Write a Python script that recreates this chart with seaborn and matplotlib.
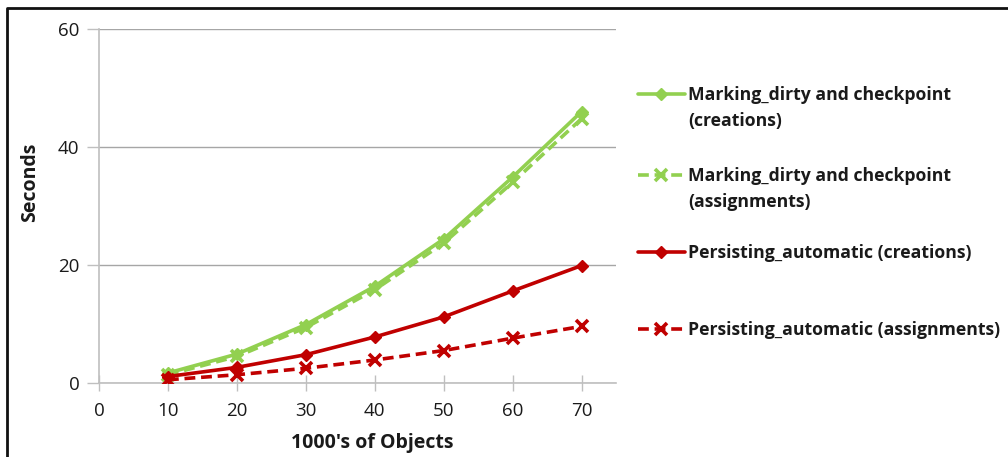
import matplotlib
matplotlib.use("Agg")
import matplotlib.pyplot as plt
from matplotlib.lines import Line2D
import seaborn as sns
import pandas as pd

# Thousands of objects processed
objects_k = [10, 20, 30, 40, 50, 60, 70]

# Elapsed time in seconds for each strategy
marking_creations = [1.7, 4.9, 9.9, 16.4, 24.4, 34.9, 46.0]
marking_assignments = [1.4, 4.5, 9.4, 15.8, 23.7, 34.0, 44.8]
persisting_creations = [1.1, 2.65, 4.8, 7.8, 11.2, 15.6, 19.9]
persisting_assignments = [0.55, 1.4, 2.5, 3.9, 5.5, 7.6, 9.6]

series_names = [
    "Marking_dirty and checkpoint\n(creations)",
    "Marking_dirty and checkpoint\n(assignments)",
    "Persisting_automatic (creations)",
    "Persisting_automatic (assignments)",
]
series_values = [marking_creations, marking_assignments,
                 persisting_creations, persisting_assignments]

GREEN = "#92D050"
RED = "#C00000"
styles = [
    dict(color=GREEN, ls="-", marker="D", ms=6.5, mew=1.0),
    dict(color=GREEN, ls=(0, (3, 1.6)), marker="x", ms=9, mew=2.6),
    dict(color=RED, ls="-", marker="D", ms=6.5, mew=1.0),
    dict(color=RED, ls=(0, (3, 1.6)), marker="x", ms=9, mew=2.6),
]

sns.set_theme(style="white")
plt.rcParams["font.family"] = ["Open Sans", "DejaVu Sans"]

fig = plt.figure(figsize=(10.08, 4.57), dpi=100)
W, H = 1008, 457
ax = fig.add_axes([99 / W, 1 - 383 / H, (616 - 99) / W, (383 - 29) / H])

rows = []
for name, vals in zip(series_names, series_values):
    for x, y in zip(objects_k, vals):
        rows.append({"objects": x, "seconds": y, "series": name})
df = pd.DataFrame(rows)

for name, st in zip(series_names, styles):
    sub = df[df["series"] == name]
    sns.lineplot(data=sub, x="objects", y="seconds", ax=ax,
                 color=st["color"], linestyle=st["ls"], linewidth=2.6,
                 marker=st["marker"], markersize=st["ms"],
                 markeredgewidth=st["mew"], markeredgecolor=st["color"],
                 markerfacecolor=st["color"], legend=False, zorder=3)

ax.set_xlim(0, 75)
ax.set_ylim(0, 60)
ax.set_xticks(range(0, 71, 10))
ax.set_yticks([0, 20, 40, 60])
ax.yaxis.grid(True, color="#A6A6A6", linewidth=1.0)
ax.set_axisbelow(True)
for side in ("top", "right"):
    ax.spines[side].set_visible(False)
for side in ("left", "bottom"):
    ax.spines[side].set_color("#BFBFBF")
    ax.spines[side].set_linewidth(1.2)
ax.tick_params(axis="y", which="major", length=9, width=1.0, color="#BFBFBF",
               direction="out", pad=5, labelsize=13.5, labelcolor="#1a1a1a", left=True)
ax.tick_params(axis="x", which="major", length=12, width=1.0, color="#BFBFBF",
               direction="inout", pad=8, labelsize=13.5, labelcolor="#1a1a1a", bottom=True)

ax.set_xlabel("1000's of Objects", fontsize=14, fontweight="bold", color="#1a1a1a")
ax.set_ylabel("Seconds", fontsize=14, fontweight="bold", color="#1a1a1a")
ax.xaxis.set_label_coords((372 - 99) / (616 - 99), -(443 - 383) / (383 - 29), transform=ax.transAxes)
ax.yaxis.set_label_coords(-(99 - 30) / (616 - 99), (383 - 182) / (383 - 29), transform=ax.transAxes)
ax.xaxis.label.set_va("center")
ax.yaxis.label.set_va("center")

# Legend drawn beside the plot, handle aligned with the first text line
legend_rows = [94, 175, 252, 329]
for name, st, yy in zip(series_names, styles, legend_rows):
    fy = 1 - yy / H
    fig.add_artist(Line2D([638 / W, 685 / W], [fy, fy], transform=fig.transFigure,
                          color=st["color"], linestyle=st["ls"], linewidth=2.6))
    fig.add_artist(Line2D([661 / W], [fy], transform=fig.transFigure,
                          color=st["color"], marker=st["marker"],
                          markersize=st["ms"] * 0.9, markeredgewidth=st["mew"],
                          markeredgecolor=st["color"], markerfacecolor=st["color"],
                          linestyle="none"))
    fig.text(688 / W, fy + 8 / H, name, ha="left", va="top", fontsize=12.7,
             fontweight="bold", color="#1a1a1a", linespacing=1.6)

# Chart frame (top and left edges)
fig.add_artist(Line2D([7 / W, 7 / W, 1.0], [0.0, 1 - 8 / H, 1 - 8 / H],
                      transform=fig.transFigure, color="#111111", linewidth=2.0))

fig.savefig("out.png", dpi=100, facecolor="white")
